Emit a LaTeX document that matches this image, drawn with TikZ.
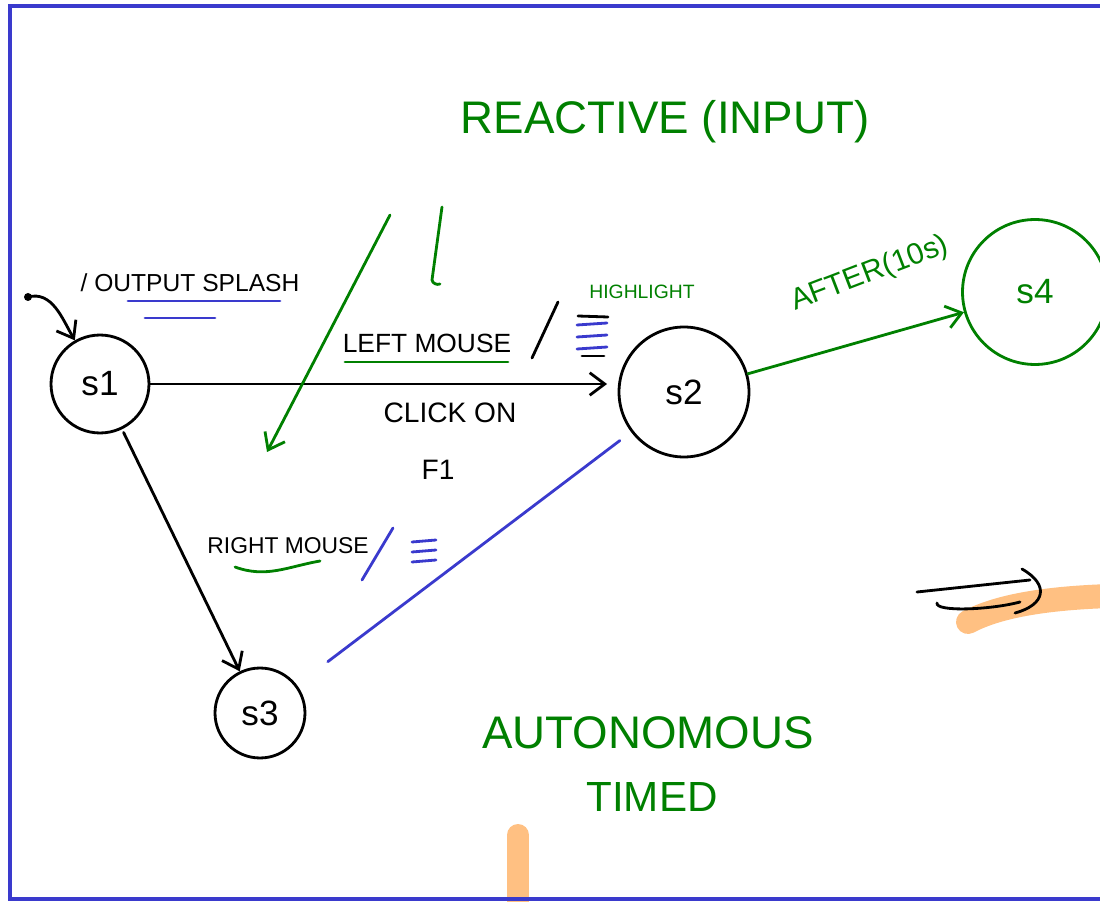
\documentclass[tikz,border=0pt]{standalone}
\usepackage{fontspec}
\setmainfont{Liberation Sans}
\usepackage{tikz}
\usetikzlibrary{arrows.meta,positioning,calc}
\pgfdeclarelayer{bg}
\pgfsetlayers{bg,main}
\definecolor{inkblue}{RGB}{58,58,205}
\definecolor{inkgreen}{RGB}{0,128,0}
\definecolor{marker}{RGB}{255,192,130}

\tikzset{
  state/.style={draw, circle, line width=1.6pt, inner sep=0pt, font=\fontsize{20}{24}\selectfont},
  ink/.style={line width=1.6pt, line cap=round},
  tip/.style={-{Straight Barb[length=3mm,width=4.5mm]}},
  lbl/.style={inner sep=0pt, font=\fontsize{15}{18}\selectfont},
}

\begin{document}
\begin{tikzpicture}[x=0.02cm, y=-0.02cm]
    \clip (0,0) rectangle (1100,902);
    \draw [inkblue, line width=2pt] (10,6) rectangle (1120,899);

    \node [state, minimum size=1.96cm] (s1) at (100,384) {s1};
    \node [state, minimum size=2.6cm] (s2) at (684,392) {s2};
    \node [state, minimum size=1.8cm] (s3) at (260,713) {s3};
    \node [state, inkgreen, minimum size=2.9cm] (s4) at (1035,292) {s4};
    \coordinate (init) at (28,297);

    \fill (init) circle (4);
    \draw [ink, tip] (init) to[out=15, in=120] (s1);
    \draw [ink, tip, shorten >=6] (s1) -- (s1 -| s2.west);
    \draw [ink, tip, shorten <=2pt] (s1) -- (s3);
    \draw [ink, tip, inkgreen] (s2) -- (s4);
    \draw [ink, inkblue, shorten <=8, shorten >=22] (s2) -- (s3);

    \node [lbl, font=\fontsize{14}{16}\selectfont] (out) at (190,283) {/ OUTPUT SPLASH};
    \node [lbl] (lm) at (427,343) {LEFT MOUSE};
    \node [lbl, font=\fontsize{16}{19}\selectfont] (click) at (450,413) {CLICK ON};
    \node [lbl, font=\fontsize{16}{19}\selectfont] (f1) at (438,470) {F1};
    \node [lbl, inkgreen, font=\fontsize{11}{13}\selectfont] (hl) at (642,292) {HIGHLIGHT};
    \node [lbl, font=\fontsize{13}{16}\selectfont] (rm) at (288,546) {RIGHT MOUSE};
    \node [lbl, inkgreen, font=\fontsize{17}{20}\selectfont, rotate=21] (after) at (870,274) {AFTER(10s)};
    \node [lbl, inkgreen, font=\fontsize{26}{30}\selectfont] (react) at (665,122) {REACTIVE (INPUT)};
    \node [lbl, inkgreen, font=\fontsize{26}{30}\selectfont] (auto) at (648,733) {AUTONOMOUS};
    \node [lbl, inkgreen, font=\fontsize{24}{28}\selectfont] (timed) at (652,797) {TIMED};

    \coordinate (ra) at (390,215);
    \coordinate (rb) at (267,452);
    \coordinate (rc) at (442,207);
    \coordinate (rd) at (432,280);
    \draw [ink, tip, inkgreen] (ra) -- (rb);
    \draw [ink, inkgreen] (rc) -- (rd) to[out=-80, in=200] (440,284);

    \draw [ink, inkblue] (128,301) -- (280,301);
    \draw [ink, inkblue] (145,318) -- (215,318);
    \draw [ink, inkgreen] (345,362) -- (508,362);
    \draw [ink, inkgreen] (235,567) to[out=-20, in=190] (320,561);

    \draw [ink] (558,302) -- (532,358);
    \draw [ink] (578,316) -- (608,317);
    \draw [ink] (582,356) -- (604,356);
    \foreach \y in {325,337,349}
        \draw [ink, inkblue] (577,\y) -- (607,\y-2);
    \draw [ink, inkblue] (393,528) -- (362,580);
    \foreach \y in {542,552,562}
        \draw [ink, inkblue] (412,\y) -- (436,\y-2);

    \draw [ink] (917,592) -- (1030,580);
    \draw [ink] (1022,569) .. controls (1050,585) and (1045,605) .. (1015,613);
    \draw [ink] (937,603) .. controls (935,612) and (990,610) .. (1020,602);

    \begin{pgfonlayer}{bg}
        \draw [marker, line width=0.44cm, line cap=round] (518,835) -- (518,920);
        \draw [marker, line width=0.48cm, line cap=round] (968,622) .. controls (1000,605) and (1050,598) .. (1110,596);
    \end{pgfonlayer}

\end{tikzpicture}
\end{document}
